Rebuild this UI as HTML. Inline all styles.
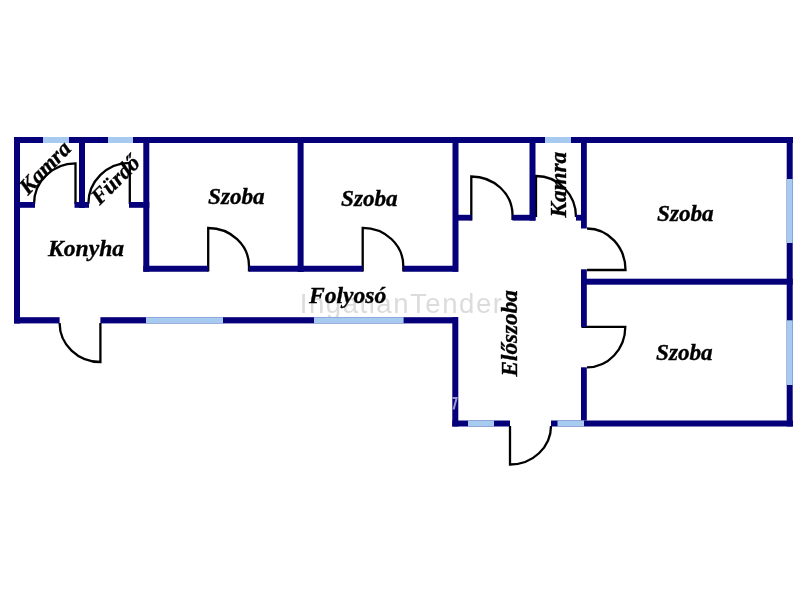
<!DOCTYPE html>
<html><head><meta charset="utf-8">
<style>
html,body{margin:0;padding:0;background:#fff;width:800px;height:600px;overflow:hidden}
svg{display:block;will-change:transform}
.t{font-family:"Liberation Serif",serif;font-weight:bold;font-style:italic;font-size:23.2px;fill:#000;stroke:#000;stroke-width:0.35px}
.wm{font-family:"Liberation Sans",sans-serif;font-size:27.5px;fill:#dcdcdc;letter-spacing:1.55px}
</style></head><body>
<svg width="800" height="600" viewBox="0 0 800 600" xmlns="http://www.w3.org/2000/svg">
<rect width="800" height="600" fill="#fff"/>
<text class="wm" x="299.8" y="312.6">IngatlanTender</text>
<g fill="none" stroke="#000" stroke-width="2.3">
<path d="M75.5 204 V163.3 A41.5 40.7 0 0 0 34 204"/>
<path d="M129.8 204 V162.8 A41.5 41.2 0 0 0 88.3 204"/>
<path d="M208.2 271.5 V228 A40.8 38 0 0 1 249 266 V271.5"/>
<path d="M362.7 271.5 V227.8 A40.6 38.2 0 0 1 403.3 266 V271.5"/>
<path d="M471.3 220.5 V176.5 A41.2 38.5 0 0 1 512.5 215 V220"/>
<path d="M536 217 V176 A40 41 0 0 1 576 217"/>
<path d="M587 270 H625.5 A38.5 41.5 0 0 0 587 228.5"/>
<path d="M581.5 326.8 H625.3 A38.3 40.5 0 0 1 587 367.3"/>
<path d="M100.4 323 V362 A40.8 39 0 0 1 59.6 323"/>
<path d="M510 426 V464.5 A41 38.5 0 0 0 551 426"/>
</g>
<g fill="#05007a">
<rect x="14" y="137" width="779" height="6"/>
<rect x="14" y="137" width="6" height="186.5"/>
<rect x="14" y="317.2" width="45.6" height="6.2"/>
<rect x="100.4" y="317.2" width="357.6" height="6.2"/>
<rect x="452.3" y="317.2" width="6" height="109.3"/>
<rect x="452.3" y="420.5" width="57.7" height="6"/>
<rect x="551" y="420.5" width="242" height="6"/>
<rect x="786.7" y="137" width="6" height="289.5"/>
<rect x="143.3" y="137" width="6" height="134.7"/>
<rect x="143.3" y="265.75" width="65" height="6"/>
<rect x="249" y="265.75" width="54.5" height="6"/>
<rect x="297.6" y="137" width="6" height="134.7"/>
<rect x="297.6" y="265.75" width="65.2" height="6"/>
<rect x="403.3" y="265.75" width="54.7" height="6"/>
<rect x="452.5" y="137" width="6" height="134.7"/>
<rect x="79" y="137" width="6" height="71"/>
<rect x="14" y="202" width="21" height="5.8"/>
<rect x="74.5" y="202" width="14.5" height="5.8"/>
<rect x="129" y="202" width="20.3" height="5.8"/>
<rect x="458" y="214.8" width="13.5" height="5.8"/>
<rect x="512.5" y="214.8" width="23" height="5.8"/>
<rect x="529.5" y="137" width="6" height="83.6"/>
<rect x="576" y="214.8" width="5" height="5.8"/>
<rect x="581" y="137" width="5.8" height="91.5"/>
<rect x="581" y="269.3" width="5.8" height="57.8"/>
<rect x="581" y="367.3" width="5.8" height="53.2"/>
<rect x="581" y="278.7" width="211.7" height="6"/>
</g>
<g fill="#a6caf0">
<rect x="43" y="137" width="26" height="6"/>
<rect x="108" y="137" width="25" height="6"/>
<rect x="545" y="137" width="26" height="6"/>
<rect x="146" y="317.2" width="77" height="6.2"/>
<rect x="314" y="317.2" width="89.6" height="6.2"/>
<rect x="468" y="420.5" width="26" height="6"/>
<rect x="557.5" y="420.5" width="26.5" height="6"/>
<rect x="786.7" y="179" width="6" height="64"/>
<rect x="786.7" y="320.3" width="6" height="64.7"/>
</g>
<text class="t" x="208" y="204">Szoba</text>
<text class="t" x="341" y="205.5">Szoba</text>
<text class="t" x="657" y="220.6">Szoba</text>
<text class="t" x="656" y="360">Szoba</text>
<text class="t" style="font-size:23.6px" x="48" y="255.6">Konyha</text>
<text class="t" style="font-size:23.6px" x="309" y="302.7">Folyosó</text>
<text class="t" transform="translate(516.8,376.5) rotate(-90)">Előszoba</text>
<text class="t" transform="translate(566,217.5) rotate(-90)">Kamra</text>
<text class="t" style="font-size:22.5px" text-anchor="middle" transform="translate(50.1,172.7) rotate(-46)">Kamra</text>
<text class="t" style="font-size:22.5px" text-anchor="middle" transform="translate(120.5,185) rotate(-45)">Fürdő</text>
<path d="M452.6 397.9 H456.6 L453.6 409.5" fill="none" stroke="rgba(255,255,255,0.6)" stroke-width="2"/>
</svg>
</body></html>
